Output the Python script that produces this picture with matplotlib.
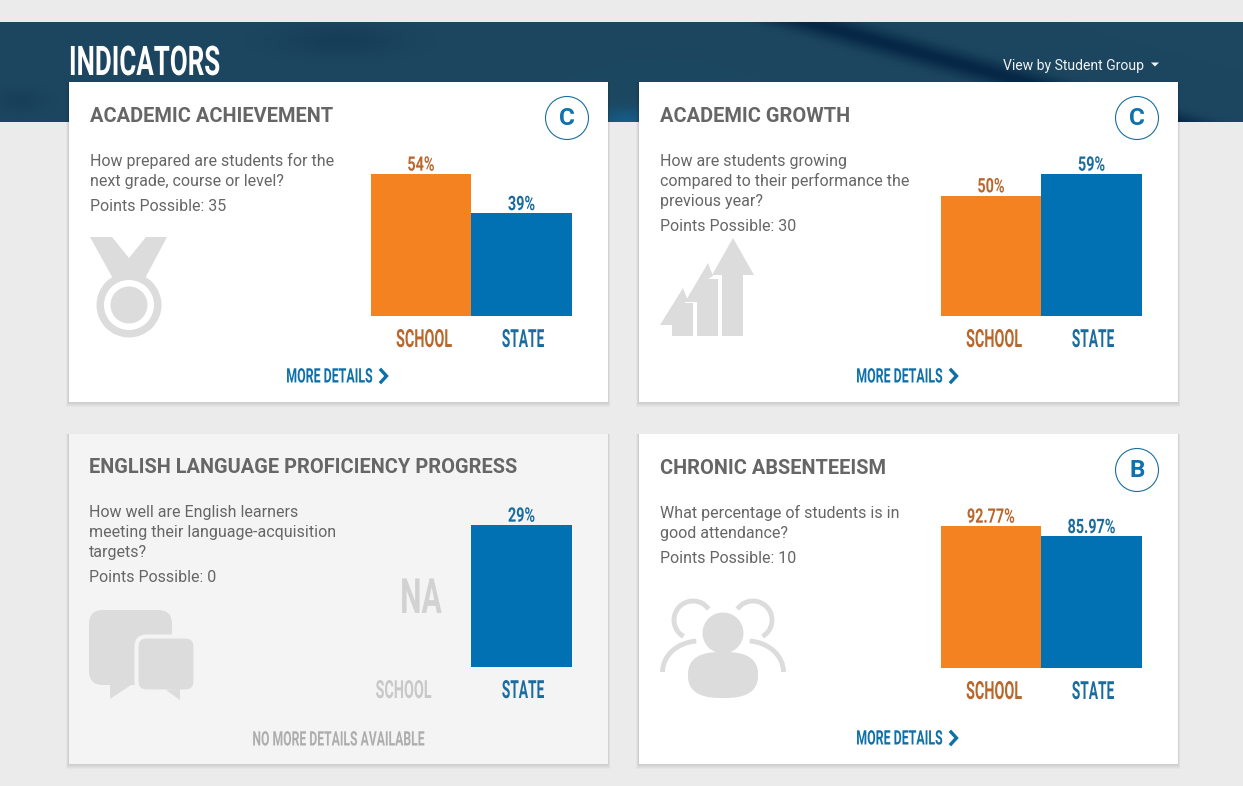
import numpy as np
import matplotlib
matplotlib.use("Agg")
import matplotlib.pyplot as plt
import matplotlib.patheffects as pe
from matplotlib.transforms import Affine2D
from matplotlib.patches import Rectangle, Circle, Polygon, FancyBboxPatch, Arc

W, H = 1243, 786

titles = ["ACADEMIC ACHIEVEMENT", "ACADEMIC GROWTH",
          "ENGLISH LANGUAGE PROFICIENCY PROGRESS", "CHRONIC ABSENTEEISM"]
questions = [
    ["How prepared are students for the", "next grade, course or level?"],
    ["How are students growing", "compared to their performance the", "previous year?"],
    ["How well are English learners", "meeting their language-acquisition", "targets?"],
    ["What percentage of students is in", "good attendance?"],
]
points_possible = [35, 30, 0, 10]
grades = ["C", "C", None, "B"]
categories = ["SCHOOL", "STATE"]
school_values = [54, 50, np.nan, 92.77]
state_values = [39, 59, 29, 85.97]
school_labels = ["54%", "50%", "", "92.77%"]
state_labels = ["39%", "59%", "29%", "85.97%"]

ORANGE = "#f58220"
BLUE = "#0271b3"
ORANGE_TXT = "#b9672c"
BLUE_TXT = "#1a6c9e"
GREY_ICON = "#dcdcdc"
TXT = "#666666"


class Squeeze(pe.AbstractPathEffect):
    # no condensed font installed, so squeeze the glyphs sideways around a pixel x
    def __init__(self, sx, px):
        super().__init__()
        self.sx = sx
        self.px = px

    def draw_path(self, renderer, gc, tpath, affine, rgbFace=None):
        squeezed = affine + Affine2D().translate(-self.px, 0).scale(self.sx, 1).translate(self.px, 0)
        renderer.draw_path(gc, tpath, squeezed, rgbFace)


def narrow(x, y, s, color, size, sx, ha="center"):
    t = page.text(x, y, s, color=color, fontsize=size, family="Roboto", weight="bold",
                  ha=ha, va="center", zorder=3)
    t.set_path_effects([Squeeze(sx, page.transData.transform((x, y))[0])])
    return t


def axes_px(x0, y0, x1, y1):
    return fig.add_axes([x0 / W, 1 - y1 / H, (x1 - x0) / W, (y1 - y0) / H])


fig = plt.figure(figsize=(W / 100, H / 100), dpi=100, facecolor="#ebebeb")
page = fig.add_axes([0, 0, 1, 1], zorder=0)
page.set_axis_off()

# banner behind the cards
yy, xx = np.mgrid[22:122, 0:W]
shade = 0.85 * np.exp(-((xx - (810 + (yy - 22) * 3.6)) / 42.0) ** 2)
shade += 0.25 * np.exp(-((xx - 340) / 70.0) ** 2 - ((yy - 40) / 18.0) ** 2)
shade += 0.2 * np.exp(-((xx - 20) / 30.0) ** 2 - ((yy - 100) / 14.0) ** 2)
light = 0.75 * np.exp(-((xx - 625) / 24.0) ** 2 - ((yy - 122) / 14.0) ** 2)
base = np.array([29, 71, 96]) / 255.0
dark = np.array([2, 34, 66]) / 255.0
pale = np.array([18, 100, 150]) / 255.0
img = base[None, None, :] * (1 - shade[..., None]) + dark[None, None, :] * shade[..., None]
img = img * (1 - light[..., None]) + pale[None, None, :] * light[..., None]
page.imshow(img, extent=(0, W, 122, 22), aspect="auto", zorder=1)
page.set_xlim(0, W)
page.set_ylim(H, 0)

narrow(69, 64, "INDICATORS", "white", 29.4, 0.635, ha="left")
page.text(1003, 70, "View by Student Group", color="#f2f2f2", fontsize=10.05, family="Roboto",
          va="baseline", zorder=3)
page.add_patch(Polygon([(1151, 62.5), (1159, 62.5), (1155, 66.5)], fc="#f2f2f2", ec="none", zorder=3))

# card layout
card_boxes = [(69, 82, 608, 402), (639, 82, 1178, 402), (69, 434, 608, 764), (639, 434, 1178, 764)]
card_colors = ["white", "white", "#f4f4f4", "white"]
text_x = [90, 660, 89, 660]
title_base = [122, 122, 473, 474]
line_base = [166, 166, 517, 518]
chart_boxes = [(370.6, 174, 571.8, 316), (940.6, 174, 1141.8, 316), (370.6, 525, 571.8, 667), (940.6, 526, 1141.8, 668)]
badge_pos = [(567, 118), (1137, 118), None, (1137, 470)]

for i in range(4):
    x0, y0, x1, y1 = card_boxes[i]
    for k in range(5, 0, -1):
        page.add_patch(Rectangle((x0 - k * 0.5, y0), x1 - x0 + k, y1 - y0 + k * 0.9,
                                 fc="black", ec="none", alpha=0.022, zorder=2))
    page.add_patch(Rectangle((x0, y0), x1 - x0, y1 - y0, fc=card_colors[i], ec="none", zorder=2))

    page.text(text_x[i], title_base[i], titles[i], color=TXT, fontsize=14.4, family="Roboto",
              weight="bold", va="baseline", zorder=3)
    y = line_base[i]
    for line in questions[i]:
        page.text(text_x[i], y, line, color=TXT, fontsize=11.55, family="Roboto", va="baseline", zorder=3)
        y += 20
    page.text(text_x[i], y + 5, "Points Possible: %d" % points_possible[i], color=TXT, fontsize=11.55,
              family="Roboto", va="baseline", zorder=3)

    if grades[i]:
        cx, cy = badge_pos[i]
        page.add_patch(Circle((cx, cy), 21.5, fc="white", ec="#1b6f9c", lw=0.8, zorder=3))
        page.text(cx, cy + 0.5, grades[i], color="#0f72ad", fontsize=17.5, family="Roboto", weight="bold",
                  ha="center", va="center", zorder=4)

    # the bars themselves: each chart is scaled to its own largest value
    bx0, by0, bx1, by1 = chart_boxes[i]
    ax = axes_px(bx0, by0, bx1, by1)
    ax.set_zorder(5)
    vals = [school_values[i], state_values[i]]
    bars = ax.bar([0, 1], vals, width=1.0, color=[ORANGE, BLUE])
    ax.set_xlim(-0.5, 1.5)
    ax.set_ylim(0, np.nanmax(vals))
    ax.set_axis_off()
    labels = ax.bar_label(bars, labels=[school_labels[i], state_labels[i]], padding=-0.5,
                          fontsize=14.4, family="Roboto", weight="bold", color=BLUE_TXT)
    labels[0].set_color(ORANGE_TXT)
    for lab, xpos in zip(labels, [0, 1]):
        lab.set_path_effects([Squeeze(0.72, ax.transData.transform((xpos, 0))[0])])

    # x labels
    school_x = bx0 + 53.5 if i != 2 else bx0 + 33
    school_col = ORANGE_TXT if i != 2 else "#c8c8c8"
    narrow(school_x, by1 + 24, categories[0], school_col, 18, 0.575)
    narrow(bx0 + 152.5, by1 + 24, categories[1], BLUE_TXT, 18, 0.55)

    # link at the bottom
    mid = (x0 + x1) / 2
    if i == 2:
        narrow(mid, 740, "NO MORE DETAILS AVAILABLE", "#adadad", 14.4, 0.61)
    else:
        ly = y1 - 26
        narrow(mid - 9, ly + 1, "MORE DETAILS", "#0d70a8", 14.4, 0.62)
        page.plot([mid + 42.5, mid + 48, mid + 42.5], [ly - 6, ly, ly + 6], color="#0d70a8", lw=2.4,
                  solid_joinstyle="miter", zorder=3)

narrow(421, 600, "NA", "#d2d2d2", 35, 0.62)

# medal icon
page.add_patch(Polygon([(90, 237), (112, 237), (129, 258), (146, 237), (167, 237), (142, 284), (116, 284)],
                       fc=GREY_ICON, ec="none", zorder=3))
page.add_patch(Circle((129, 305), 32.5, fc=GREY_ICON, ec="none", zorder=3))
page.add_patch(Circle((129, 305), 25, fc="white", ec="none", zorder=3))
page.add_patch(Circle((129, 305), 18.5, fc=GREY_ICON, ec="none", zorder=3))

# arrows icon
page.add_patch(Polygon([(683, 288), (688, 301), (684, 303), (693, 303), (693, 336), (672, 336), (672, 325), (660, 325)],
                       fc=GREY_ICON, ec="none", zorder=3))
page.add_patch(Polygon([(708, 263), (713, 276), (708, 279), (718, 279), (718, 336), (697, 336), (697, 302), (685, 302)],
                       fc=GREY_ICON, ec="none", zorder=3))
page.add_patch(Polygon([(733, 238), (754, 275), (743, 275), (743, 336), (722, 336), (722, 275), (712, 275)],
                       fc=GREY_ICON, ec="none", zorder=3))

# speech bubbles icon
page.add_patch(FancyBboxPatch((101, 622), 59, 51, boxstyle="round,pad=12,rounding_size=14",
                              fc=GREY_ICON, ec="none", zorder=3))
page.add_patch(Polygon([(110, 683), (110, 699), (134, 683)], fc=GREY_ICON, ec="none", zorder=3))
page.add_patch(FancyBboxPatch((148, 648), 36, 32, boxstyle="round,pad=11.5,rounding_size=10",
                              fc=GREY_ICON, ec="#f4f4f4", lw=3, zorder=3))
page.add_patch(Polygon([(166, 690), (180, 700), (180, 689)], fc=GREY_ICON, ec="none", zorder=3))

# people icon
for cx, t1, t2 in [(693, 120, 325), (753, 215, 60)]:
    page.add_patch(Arc((cx, 620), 38, 38, theta1=t1, theta2=t2, color=GREY_ICON, lw=3.5, zorder=3))
page.add_patch(Arc((699, 672), 73, 62, theta1=180, theta2=265, color=GREY_ICON, lw=3.5, zorder=3))
page.add_patch(Arc((747, 672), 73, 62, theta1=275, theta2=360, color=GREY_ICON, lw=3.5, zorder=3))
t = np.linspace(0, 2 * np.pi, 80)
bell_x = 723 + 35 * np.sign(np.cos(t)) * np.abs(np.cos(t)) ** 0.75
bell_y = 675 + 23 * np.sign(np.sin(t)) * np.abs(np.sin(t)) ** 0.8
page.add_patch(Circle((723, 633), 26, fc="white", ec="none", zorder=3))
page.add_patch(Polygon(np.column_stack([bell_x, bell_y]), fc=GREY_ICON, ec="none", zorder=3))
page.add_patch(Circle((723, 633), 20.5, fc=GREY_ICON, ec="none", zorder=3))

fig.savefig("out.png", dpi=100, facecolor=fig.get_facecolor())
